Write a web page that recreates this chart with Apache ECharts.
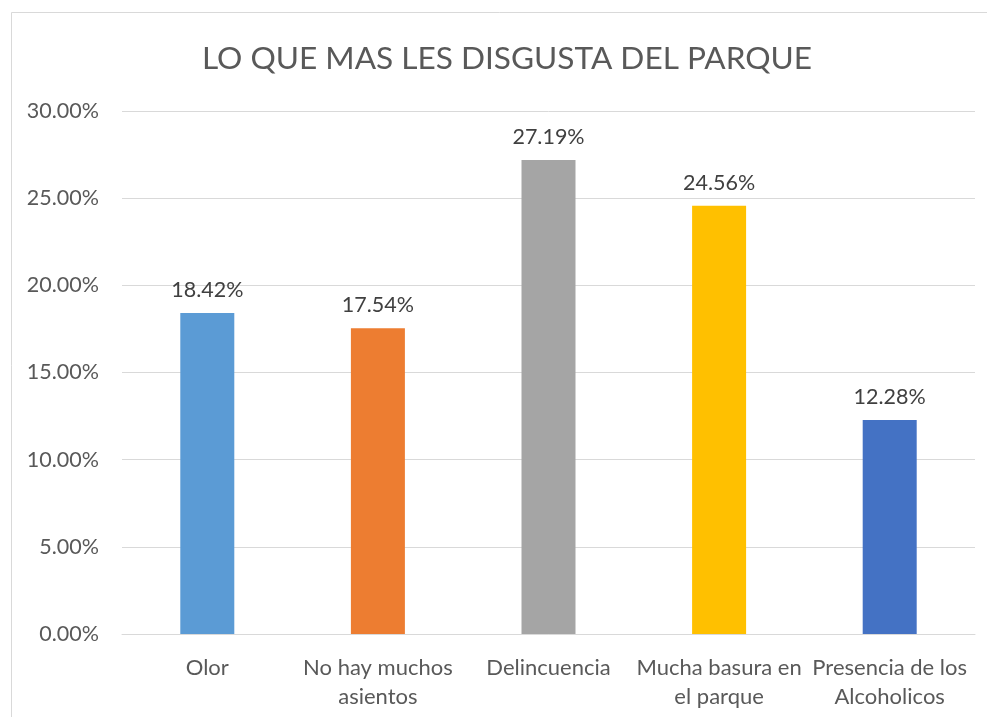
<!DOCTYPE html>
<html>
<head>
<meta charset="utf-8">
<script src="https://cdn.jsdelivr.net/npm/echarts@6/dist/echarts.min.js"></script>
<style>
  html, body { margin: 0; padding: 0; background: #fff; }
  #chart { width: 987px; height: 717px; }
</style>
</head>
<body>
<div id="chart"></div>
<script>
  const titleText = 'LO QUE MAS LES DISGUSTA DEL PARQUE';
  const categories = ['Olor', 'No hay muchos\nasientos', 'Delincuencia', 'Mucha basura en\nel parque', 'Presencia de los\nAlcoholicos'];
  const values = [18.42, 17.54, 27.19, 24.56, 12.28];
  const barColors = ['#5B9BD5', '#ED7D31', '#A5A5A5', '#FFC000', '#4472C4'];
  const yTicks = { min: 0, max: 30, interval: 5 };

  const fontFam = 'Lato, "Open Sans", sans-serif';
  let myChart = echarts.init(document.getElementById('chart'));
  let option = {
    backgroundColor: '#fff',
    animation: false,
    graphic: [{
      type: 'rect',
      shape: { x: 11.5, y: 12.5, width: 1000, height: 720 },
      style: { fill: 'none', stroke: '#D9D9D9', lineWidth: 1 }
    }],
    title: {
      text: titleText,
      left: 502,
      textAlign: 'center',
      top: 38,
      textStyle: { color: '#595959', fontFamily: fontFam, fontSize: 31.6, fontWeight: 'normal' }
    },
    grid: { left: 122, right: 12, top: 111, bottom: 83, containLabel: false },
    xAxis: {
      type: 'category',
      data: categories,
      axisTick: { show: false },
      axisLine: { lineStyle: { color: '#D9D9D9', width: 1 } },
      axisLabel: {
        color: '#595959', fontFamily: fontFam, fontSize: 22, margin: 19, lineHeight: 29, interval: 0
      }
    },
    yAxis: {
      type: 'value',
      min: yTicks.min,
      max: yTicks.max,
      interval: yTicks.interval,
      axisTick: { show: false },
      axisLine: { show: false },
      splitLine: { lineStyle: { color: '#D9D9D9', width: 1 } },
      axisLabel: {
        color: '#595959', fontFamily: fontFam, fontSize: 21.5, margin: 23,
        formatter: function (v) { return v.toFixed(2) + '%'; }
      }
    },
    series: [{
      type: 'bar',
      barWidth: 54,
      data: values.map(function (v, i) { return { value: v, itemStyle: { color: barColors[i] } }; }),
      label: {
        show: true,
        position: 'top',
        distance: 12,
        color: '#404040',
        fontFamily: fontFam,
        fontSize: 21.5,
        formatter: function (p) { return p.value.toFixed(2) + '%'; }
      }
    }]
  };
  myChart.setOption(option);
  window.addEventListener('resize', function () { myChart.resize(); });
</script>
</body>
</html>
